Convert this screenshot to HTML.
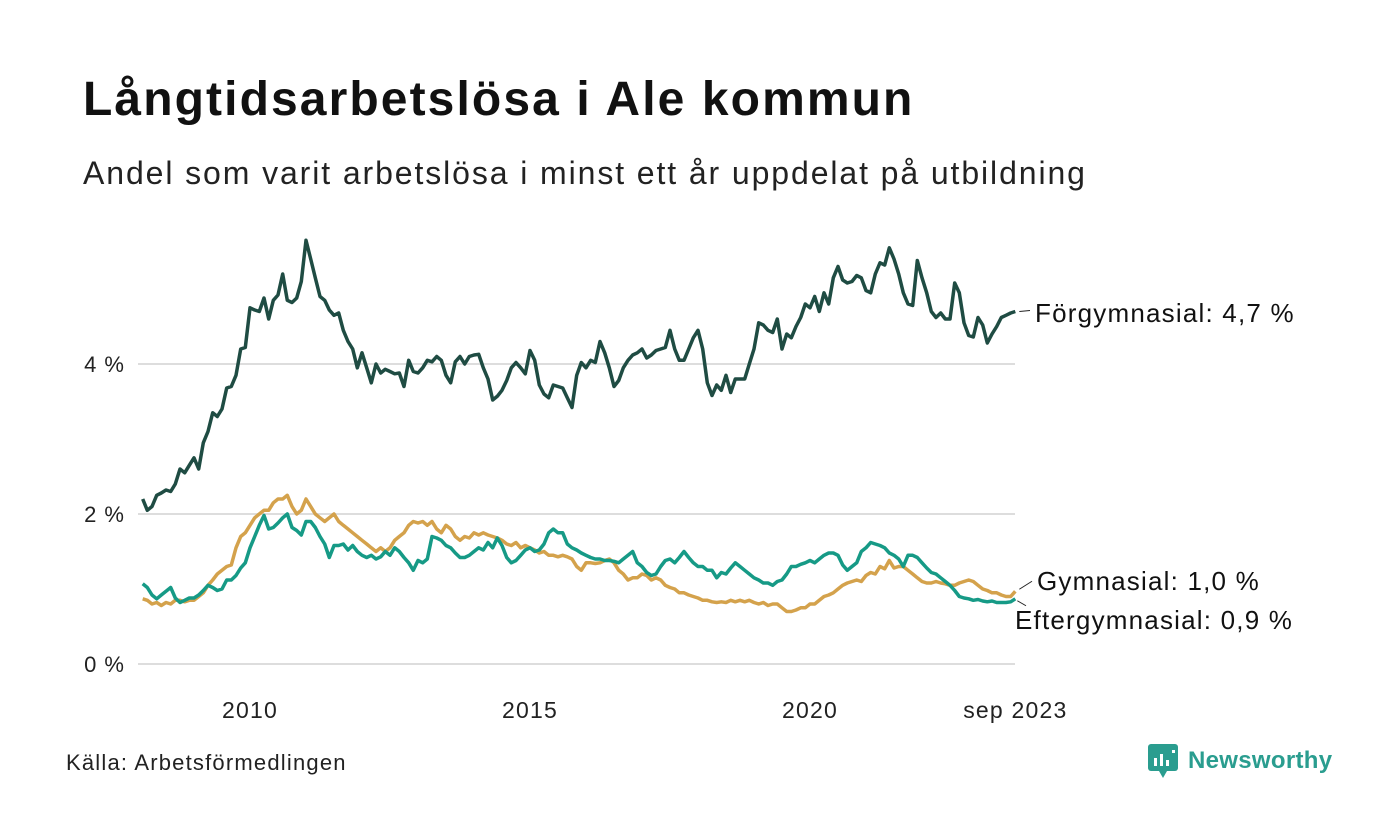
<!DOCTYPE html>
<html><head><meta charset="utf-8">
<style>
body{margin:0;width:1400px;height:840px;background:#fff;font-family:"Liberation Sans",sans-serif;position:relative;overflow:hidden;color:#111}
#title{position:absolute;left:83px;top:72px;font-size:48px;font-weight:bold;margin:0;letter-spacing:2.1px}
#subtitle{position:absolute;left:83px;top:155px;font-size:32px;margin:0;color:#222;letter-spacing:1.9px}
#source{position:absolute;left:66px;top:750px;font-size:22px;color:#222;letter-spacing:1.2px}
#brand{position:absolute;left:1148px;top:744px;display:flex;align-items:center}
#brand span{font-size:24px;font-weight:bold;color:#2a9d8f;margin-left:10px;letter-spacing:0.3px}
svg text{font-family:"Liberation Sans",sans-serif}
</style></head><body>
<h1 id="title">Långtidsarbetslösa i Ale kommun</h1>
<p id="subtitle">Andel som varit arbetslösa i minst ett år uppdelat på utbildning</p>
<svg id="chart" width="1400" height="840" style="position:absolute;left:0;top:0"></svg>
<div id="source">Källa: Arbetsförmedlingen</div>
<div id="brand">
<svg width="30" height="34"><rect x="0" y="0" width="30" height="27" rx="3" fill="#2a9d8f"/><polygon points="11,27 19,27 15,34" fill="#2a9d8f"/><rect x="6" y="14" width="3" height="8" fill="#fff"/><rect x="12" y="10" width="3" height="12" fill="#fff"/><rect x="18" y="16" width="3" height="6" fill="#fff"/><rect x="24" y="6" width="3" height="3" fill="#fff"/></svg>
<span>Newsworthy</span></div>
<script>
const startYear = 2008 + 1/12; // Feb 2008
const yTicks = [0, 2, 4];
const yTickLabels = ["0 %", "2 %", "4 %"];
const xTicks = [2010, 2015, 2020, 2023 + 8/12];
const xTickLabels = ["2010", "2015", "2020", "sep 2023"];
const forgymnasial = [
2.2,2.05,2.1,2.25,2.28,2.32,2.3,2.4,2.6,2.55,2.65,
2.75,2.6,2.95,3.1,3.35,3.3,3.4,3.68,3.7,3.85,4.2,4.22,
4.75,4.72,4.7,4.88,4.6,4.85,4.92,5.2,4.85,4.82,4.88,5.1,
5.65,5.4,5.15,4.9,4.85,4.72,4.65,4.68,4.45,4.3,4.2,3.95,
4.15,3.95,3.75,4.0,3.88,3.93,3.9,3.87,3.88,3.7,4.05,3.9,
3.88,3.95,4.05,4.03,4.1,4.05,3.85,3.75,4.03,4.1,4.0,4.1,
4.12,4.13,3.95,3.8,3.52,3.57,3.65,3.78,3.95,4.02,3.95,3.87,
4.18,4.05,3.72,3.6,3.55,3.72,3.7,3.68,3.55,3.42,3.85,4.02,
3.95,4.05,4.02,4.3,4.15,3.95,3.7,3.78,3.95,4.05,4.12,4.15,
4.2,4.08,4.12,4.18,4.2,4.22,4.45,4.2,4.05,4.05,4.2,4.35,
4.45,4.2,3.75,3.58,3.72,3.65,3.85,3.62,3.8,3.8,3.8,4.0,
4.2,4.55,4.52,4.45,4.42,4.6,4.2,4.4,4.35,4.5,4.62,4.8,
4.75,4.9,4.7,4.95,4.8,5.15,5.3,5.12,5.08,5.1,5.18,5.15,
4.98,4.95,5.2,5.35,5.32,5.55,5.4,5.2,4.95,4.8,4.78,5.38,
5.15,4.95,4.7,4.62,4.68,4.6,4.6,5.08,4.95,4.55,4.38,4.36,
4.62,4.52,4.28,4.4,4.5,4.62,4.65,4.68,4.7];
const gymnasial = [
0.87,0.85,0.8,0.82,0.78,0.82,0.8,0.85,0.85,0.83,0.85,
0.85,0.9,0.95,1.05,1.12,1.2,1.25,1.3,1.32,1.55,1.7,1.75,
1.85,1.95,2.0,2.05,2.05,2.15,2.2,2.2,2.25,2.1,2.0,2.05,
2.2,2.1,2.0,1.95,1.9,1.95,2.0,1.9,1.85,1.8,1.75,1.7,
1.65,1.6,1.55,1.5,1.55,1.5,1.55,1.65,1.7,1.75,1.85,1.9,
1.88,1.9,1.85,1.9,1.8,1.75,1.85,1.8,1.7,1.65,1.7,1.68,
1.75,1.72,1.75,1.72,1.7,1.68,1.65,1.6,1.58,1.62,1.55,1.58,
1.55,1.52,1.48,1.5,1.45,1.45,1.43,1.45,1.43,1.4,1.3,1.25,
1.35,1.35,1.34,1.35,1.38,1.4,1.35,1.25,1.2,1.12,1.15,1.15,
1.2,1.18,1.12,1.15,1.12,1.05,1.02,1.0,0.95,0.95,0.92,0.9,
0.88,0.85,0.85,0.83,0.82,0.83,0.82,0.85,0.83,0.85,0.83,0.85,
0.82,0.8,0.82,0.78,0.8,0.8,0.75,0.7,0.7,0.72,0.75,0.75,
0.8,0.8,0.85,0.9,0.92,0.95,1.0,1.05,1.08,1.1,1.12,1.1,
1.18,1.22,1.2,1.3,1.27,1.38,1.28,1.3,1.3,1.25,1.2,1.15,
1.1,1.08,1.08,1.1,1.08,1.07,1.05,1.05,1.08,1.1,1.12,1.1,
1.05,1.0,0.98,0.95,0.95,0.92,0.9,0.9,0.97];
const eftergymnasial = [
1.07,1.02,0.92,0.87,0.92,0.97,1.02,0.88,0.82,0.85,0.88,
0.88,0.92,0.98,1.05,1.02,0.98,1.0,1.12,1.12,1.18,1.28,1.35,
1.55,1.7,1.85,1.98,1.8,1.82,1.88,1.95,2.0,1.82,1.78,1.72,
1.9,1.9,1.82,1.7,1.6,1.42,1.58,1.58,1.6,1.52,1.58,1.5,
1.45,1.42,1.45,1.4,1.43,1.5,1.45,1.55,1.5,1.42,1.35,1.25,
1.38,1.35,1.4,1.7,1.68,1.65,1.58,1.55,1.48,1.42,1.42,1.45,
1.5,1.55,1.52,1.62,1.55,1.68,1.58,1.42,1.35,1.38,1.45,1.52,
1.55,1.5,1.52,1.6,1.75,1.8,1.75,1.75,1.6,1.55,1.52,1.48,
1.45,1.42,1.4,1.4,1.38,1.38,1.37,1.35,1.4,1.45,1.5,1.35,
1.3,1.22,1.18,1.2,1.3,1.38,1.4,1.35,1.42,1.5,1.42,1.35,
1.3,1.3,1.25,1.25,1.15,1.22,1.2,1.28,1.35,1.3,1.25,1.2,
1.15,1.12,1.08,1.08,1.05,1.1,1.12,1.2,1.3,1.3,1.33,1.35,
1.38,1.35,1.4,1.45,1.48,1.48,1.45,1.32,1.25,1.3,1.35,1.5,
1.55,1.62,1.6,1.58,1.55,1.48,1.45,1.4,1.3,1.45,1.45,1.42,
1.35,1.28,1.22,1.2,1.15,1.1,1.05,0.98,0.9,0.88,0.87,0.85,
0.86,0.84,0.83,0.84,0.82,0.82,0.82,0.83,0.87];
const seriesNames = ["Förgymnasial", "Gymnasial", "Eftergymnasial"];

const NS = "http://www.w3.org/2000/svg";
const svg = document.getElementById("chart");
const x = t => 250 + (t - 2010) * 56;
const y = v => 664 - v * 75;
function mk(tag, attrs){const e=document.createElementNS(NS,tag);for(const k in attrs)e.setAttribute(k,attrs[k]);svg.appendChild(e);return e;}

yTicks.forEach((v,i)=>{
  const g = mk("line",{x1:138,x2:1015,y1:y(v),y2:y(v),stroke:"#dddddd","stroke-width":2});
  
  
  const t = mk("text",{x:125,y:y(v)+8,"text-anchor":"end","font-size":22,fill:"#222","letter-spacing":1});
  t.textContent = yTickLabels[i];
  
  
});
xTicks.forEach((v,i)=>{
  const t = mk("text",{x:x(v),y:718,"text-anchor":"middle","font-size":23,fill:"#222","letter-spacing":1.2});
  t.textContent = xTickLabels[i];
  
  
});
function line(data,color,name){
  const pts = data.map((v,i)=>x(startYear+i/12).toFixed(1)+","+y(v).toFixed(1)).join(" ");
  const p = mk("polyline",{points:pts,fill:"none",stroke:color,"stroke-width":3.5,"stroke-linejoin":"round"});
  
  
  return p;
}
line(gymnasial,"#d4a24c","line-gymnasial");
line(eftergymnasial,"#169a86","line-eftergymnasial");
line(forgymnasial,"#1f4c43","line-forgymnasial");

const lastX = x(startYear + (forgymnasial.length-1)/12);
function label(txt,lx,ly,x1,y1,x2,y2,name){
  const l = mk("line",{x1:x1,y1:y1,x2:x2,y2:y2,stroke:"#222","stroke-width":1});
  
  
  const t = mk("text",{x:lx,y:ly,"font-size":26,fill:"#111","letter-spacing":1.2});
  t.textContent = txt;
  
  
}
const fmt = v => (Math.round(v*10)/10).toFixed(1).replace(".", ",") + " %";
const fl = forgymnasial[forgymnasial.length-1], gl = gymnasial[gymnasial.length-1], el = eftergymnasial[eftergymnasial.length-1];
label(seriesNames[0]+": "+fmt(fl),1035,322,lastX+4,y(fl),1030,y(fl)-1,"label-forgymnasial");
label(seriesNames[1]+": "+fmt(gl),1037,590,lastX+4,y(gl)-2,1032,y(gl)-10,"label-gymnasial");
label(seriesNames[2]+": "+fmt(el),1015,629,lastX+2,y(el)+2,1026,y(el)+7,"label-eftergymnasial");
</script>
</body></html>
